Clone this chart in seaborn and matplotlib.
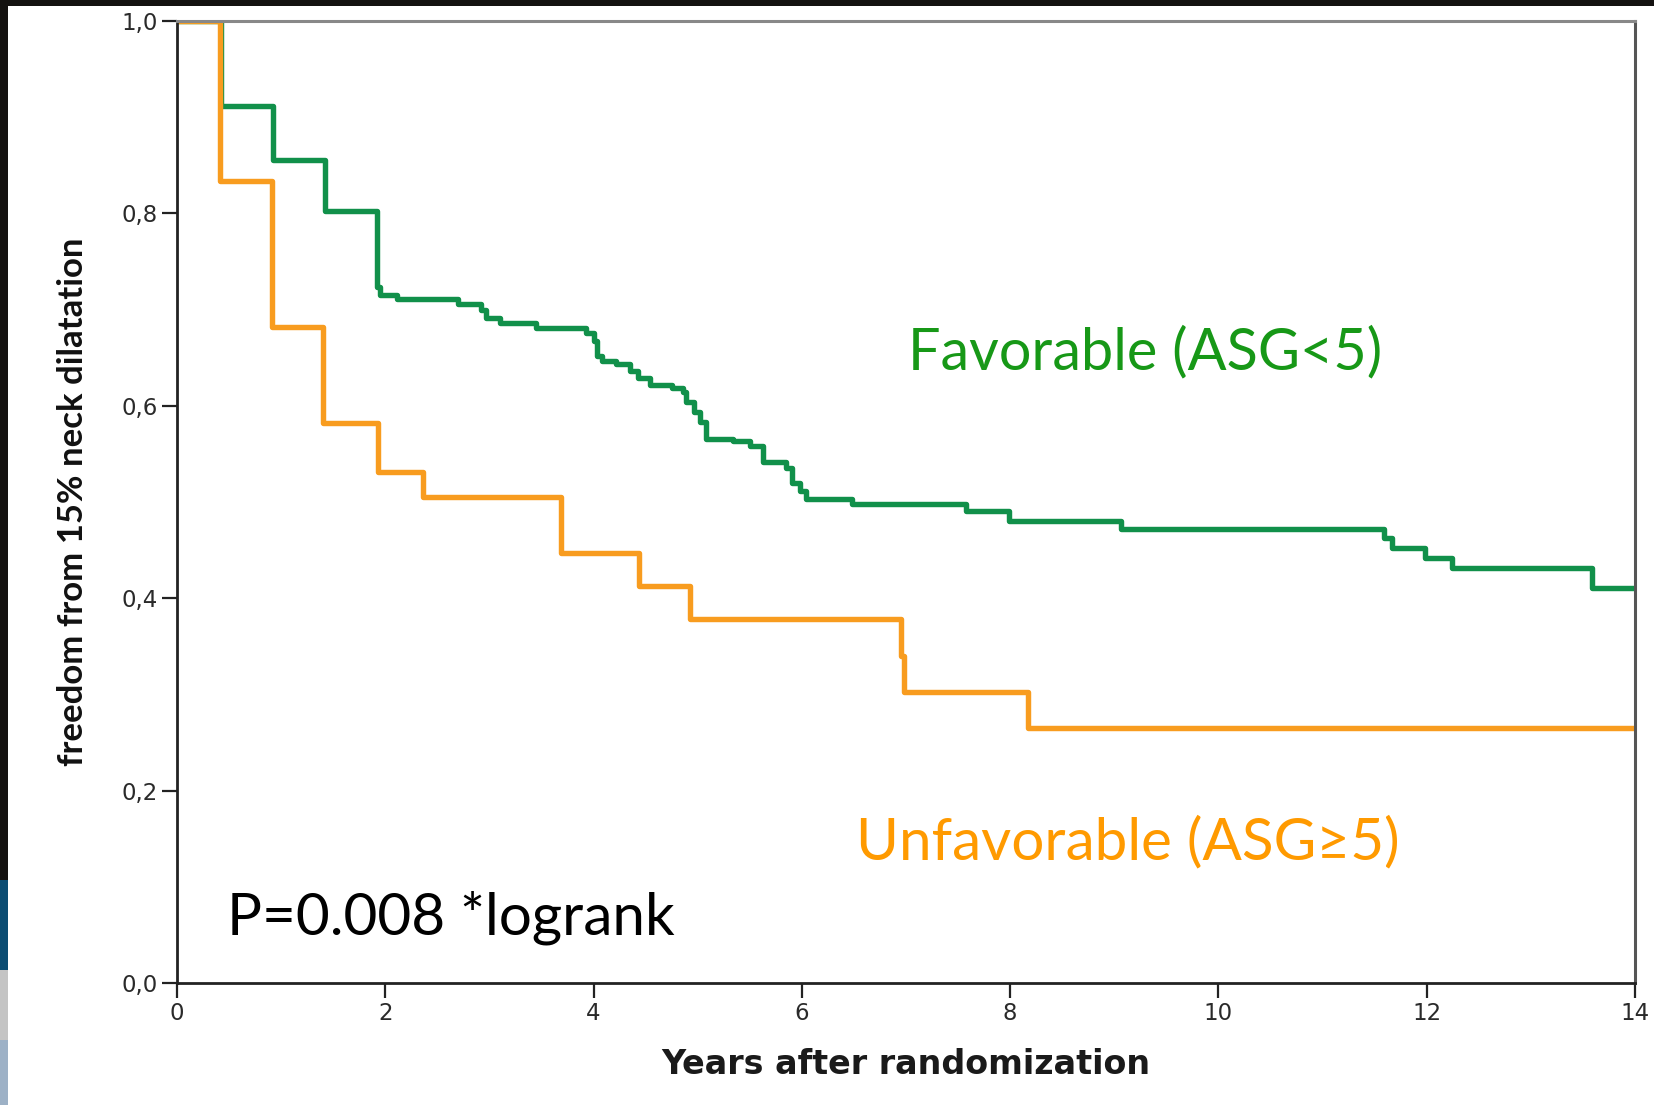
import numpy as np
import pandas as pd
import matplotlib
matplotlib.use("Agg")
import matplotlib.pyplot as plt
import seaborn as sns
from matplotlib.patches import Rectangle

# ---- data (Kaplan-Meier steps) ----
green_t = [0, 0.42, 0.92, 1.42, 1.92, 1.95, 2.11, 2.70, 2.92, 2.97, 3.10, 3.45,
           3.93, 4.00, 4.03, 4.08, 4.22, 4.35, 4.43, 4.54, 4.75, 4.86, 4.89, 4.96,
           5.02, 5.08, 5.34, 5.50, 5.63, 5.85, 5.91, 5.98, 6.04, 6.48, 7.58, 7.99,
           9.06, 11.59, 11.67, 11.98, 12.24, 13.59, 14.0]
green_s = [1.0, 0.912, 0.856, 0.803, 0.724, 0.715, 0.711, 0.706, 0.700, 0.691, 0.686, 0.681,
           0.676, 0.667, 0.652, 0.647, 0.643, 0.636, 0.629, 0.622, 0.618, 0.614, 0.604, 0.594,
           0.583, 0.566, 0.563, 0.558, 0.542, 0.535, 0.520, 0.511, 0.503, 0.498, 0.491, 0.4805,
           0.472, 0.4626, 0.452, 0.442, 0.431, 0.411, 0.411]

orange_t = [0, 0.41, 0.91, 1.40, 1.93, 2.36, 3.69, 4.44, 4.93, 6.95, 6.98, 8.17, 14.0]
orange_s = [1.0, 0.834, 0.682, 0.582, 0.5315, 0.5055, 0.447, 0.413, 0.378, 0.34, 0.3025, 0.265, 0.265]

groups = ["Favorable (ASG<5)", "Unfavorable (ASG\u22655)"]
x_ticks = [0, 2, 4, 6, 8, 10, 12, 14]
y_ticks = [0.0, 0.2, 0.4, 0.6, 0.8, 1.0]
y_tick_labels = ["0,0", "0,2", "0,4", "0,6", "0,8", "1,0"]
x_label = "Years after randomization"
y_label = "freedom from 15% neck dilatation"
p_text = "P=0.008 *logrank"

curve_colors = {groups[0]: "#11904a", groups[1]: "#f89c1f"}
text_colors = {groups[0]: "#179817", groups[1]: "#ff9a00"}

df = pd.concat([
    pd.DataFrame({"t": green_t, "s": green_s, "group": groups[0]}),
    pd.DataFrame({"t": orange_t, "s": orange_s, "group": groups[1]}),
], ignore_index=True)

sns.set_theme(style="white")
plt.rcParams["font.family"] = ["DejaVu Sans"]

fig = plt.figure(figsize=(16.54, 11.05), dpi=100)
fig.patch.set_facecolor("white")
ax = fig.add_axes([177 / 1654, 1 - 983 / 1105, (1635 - 177) / 1654, (983 - 21) / 1105])

sns.lineplot(data=df, x="t", y="s", hue="group", palette=curve_colors,
             drawstyle="steps-post", estimator=None, sort=False, legend=False,
             linewidth=3.9, ax=ax)

ax.set_xlim(0, 14)
ax.set_ylim(0, 1.0)
ax.set_xticks(x_ticks)
ax.set_xticklabels([str(v) for v in x_ticks])
ax.set_yticks(y_ticks)
ax.set_yticklabels(y_tick_labels)
ax.tick_params(axis="both", which="major", direction="out", length=11, width=1.6,
               color="#222222", labelsize=16.5, labelcolor="#2a2a2a", pad=3,
               bottom=True, left=True)

for side in ["left", "bottom"]:
    ax.spines[side].set_color("#222222")
    ax.spines[side].set_linewidth(2.0)
ax.spines["top"].set_color("#888888")
ax.spines["top"].set_linewidth(2.2)
ax.spines["right"].set_color("#555555")
ax.spines["right"].set_linewidth(2.2)

ax.set_xlabel(x_label, fontsize=24, fontweight="bold", color="#1a1a1a", labelpad=16)
ax.set_ylabel(y_label, fontsize=25, fontweight="bold", color="#111111", labelpad=23,
              family=["Lato", "DejaVu Sans"])

ann_font = ["Lato", "DejaVu Sans"]
ax.text(7.02, 0.655, groups[0], color=text_colors[groups[0]],
        fontsize=41.5, family=ann_font, va="center", ha="left")
ax.text(6.52, 0.146, groups[1], color=text_colors[groups[1]],
        fontsize=42, family=ann_font, va="center", ha="left")
ax.text(0.48, 0.068, p_text, color="black", fontsize=42, family=ann_font,
        va="center", ha="left")

# slide background strips visible at the top and left edges
fig.patches.append(Rectangle((0, 1 - 6 / 1105), 1, 6 / 1105, transform=fig.transFigure,
                             facecolor="#141210", edgecolor="none", zorder=10))
fig.patches.append(Rectangle((0, 1 - 880 / 1105), 8 / 1654, 880 / 1105, transform=fig.transFigure,
                             facecolor="#141210", edgecolor="none", zorder=10))
fig.patches.append(Rectangle((0, 1 - 970 / 1105), 8 / 1654, 90 / 1105, transform=fig.transFigure,
                             facecolor="#0b4c72", edgecolor="none", zorder=10))
fig.patches.append(Rectangle((0, 1 - 1040 / 1105), 8 / 1654, 70 / 1105, transform=fig.transFigure,
                             facecolor="#c4c4c4", edgecolor="none", zorder=10))
fig.patches.append(Rectangle((0, 0), 8 / 1654, 65 / 1105, transform=fig.transFigure,
                             facecolor="#9db1c6", edgecolor="none", zorder=10))

fig.savefig("out.png", dpi=100, facecolor="white")
